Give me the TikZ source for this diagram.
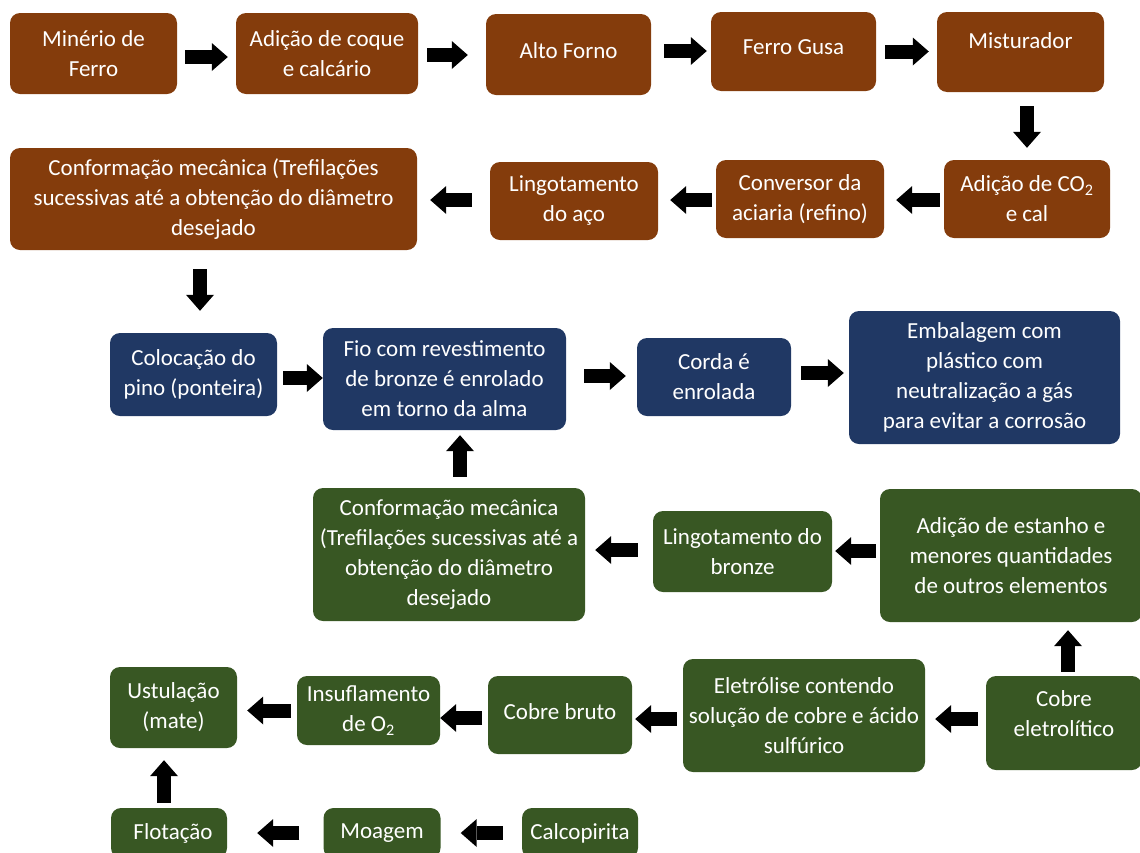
\documentclass[tikz,border=0pt]{standalone}
\usepackage{fontspec}
\setmainfont{Carlito}
\usetikzlibrary{arrows.meta}
\definecolor{brownc}{RGB}{132,60,12}
\definecolor{bluec}{RGB}{32,56,100}
\definecolor{greenc}{RGB}{56,87,35}
\tikzset{
  box/.style={rounded corners=10pt, text=white, align=center, inner sep=2pt,
    font=\fontsize{23}{30}\selectfont},
  brownbox/.style={box, fill=brownc},
  bluebox/.style={box, fill=bluec},
  greenbox/.style={box, fill=greenc},
  sz/.style 2 args={minimum width=#1pt, minimum height=#2pt},
  barrow/.style={draw=black, line width=14pt,
    -{Triangle[length=16pt,width=28pt,line width=0pt]}}
}
\begin{document}
\begin{tikzpicture}[x=1pt,y=-1pt]
\useasboundingbox (0,0) rectangle (1140,852);
% row 1
\node[brownbox, sz={167}{81}] (a1) at (93.5,53.5) {Minério de\\Ferro};
\node[brownbox, sz={182}{81}] (a2) at (327,53.5) {Adição de coque\\e calcário};
\node[brownbox, sz={165}{81}, text depth=8pt] (a3) at (568.5,54.5) {Alto Forno};
\node[brownbox, sz={165}{79}, text depth=8pt] (a4) at (793.5,51.5) {Ferro Gusa};
\node[brownbox, sz={167}{80}, text depth=22pt] (a5) at (1020.5,52) {Misturador};
% row 2
\node[brownbox, sz={407}{102}] (b1) at (213.5,199) {Conformação mecânica (Trefilações\\sucessivas até a obtenção do diâmetro\\desejado};
\node[brownbox, sz={168}{78}] (b2) at (574,201) {Lingotamento\\do aço};
\node[brownbox, sz={168}{78}] (b3) at (800,199) {Conversor da\\aciaria (refino)};
\node[brownbox, sz={166}{78}] (b4) at (1027,199) {Adição de CO\textsubscript{2}\\e cal};
% row 3
\node[bluebox, sz={167}{83}] (c1) at (193.5,374.5) {Colocação do\\pino (ponteira)};
\node[bluebox, sz={243}{102}] (c2) at (444.5,379) {Fio com revestimento\\de bronze é enrolado\\em torno da alma};
\node[bluebox, sz={154}{78}] (c3) at (714,377) {Corda é\\enrolada};
\node[bluebox, sz={271}{133}] (c4) at (984.5,377.5) {Embalagem com\\plástico com\\neutralização a gás\\para evitar a corrosão};
% row 4
\node[greenbox, sz={272}{133}] (d1) at (449,554.5) {Conformação mecânica\\(Trefilações sucessivas até a\\obtenção do diâmetro\\desejado};
\node[greenbox, sz={179}{81}] (d2) at (742.5,551.5) {Lingotamento do\\bronze};
\node[greenbox, sz={262}{133}] (d3) at (1011,555.5) {Adição de estanho e\\menores quantidades\\de outros elementos};
% row 5
\node[greenbox, sz={127}{81}] (e1) at (173.5,707.5) {Ustulação\\(mate)};
\node[greenbox, sz={143}{69}] (e2) at (368.5,710.5) {Insuflamento\\de O\textsubscript{2}};
\node[greenbox, sz={144}{78}, text depth=6pt] (e3) at (560,715) {Cobre bruto};
\node[greenbox, sz={242}{113}] (e4) at (804,715.5) {Eletrólise contendo\\solução de cobre e ácido\\sulfúrico};
\node[greenbox, sz={156}{94}, text depth=18pt] (e5) at (1064,723) {Cobre\\eletrolítico};
% row 6
\node[greenbox, sz={116}{50}] (f1) at (169,833) {\hspace*{8pt}Flotação};
\node[greenbox, sz={117}{50}] (f2) at (382,833) {Moagem};
\node[greenbox, sz={116}{50}] (f3) at (580,833) {Calcopirita};
% arrows row 1
\draw[barrow, shorten <=8pt, shorten >=8pt] ([yshift=-3.5pt]a1.east) -- ([yshift=-3.5pt]a1.east -| a2.west);
\draw[barrow, shorten <=9pt, shorten >=18pt] ([yshift=-1.5pt]a2.east) -- ([yshift=-1.5pt]a2.east -| a3.west);
\draw[barrow, shorten <=13pt, shorten >=4pt] ([yshift=3.5pt]a3.east) -- ([yshift=3.5pt]a3.east -| a4.west);
\draw[barrow, shorten <=9pt, shorten >=8pt] (a4.east) -- (a4.east -| a5.west);
\draw[barrow, shorten <=14pt, shorten >=12pt] ([xshift=6.5pt]a5.south) -- ([xshift=6.5pt]a5.south |- b4.north);
% arrows row 2
\draw[barrow, shorten <=4pt, shorten >=12pt] ([yshift=-1pt]b4.west) -- ([yshift=-1pt]b4.west -| b3.east);
\draw[barrow, shorten <=4pt, shorten >=12pt] ([yshift=-1pt]b3.west) -- ([yshift=-1pt]b3.west -| b2.east);
\draw[barrow, shorten <=18pt, shorten >=13pt] ([yshift=1pt]b2.west) -- ([yshift=1pt]b2.west -| b1.east);
\draw[barrow, shorten <=19pt, shorten >=22pt] ([xshift=-13.5pt]b1.south) -- ([xshift=-13.5pt]b1.south |- c1.north);
% arrows row 3
\draw[barrow, shorten <=6pt, shorten >=0pt] ([yshift=-3.5pt]c1.east) -- ([yshift=-3.5pt]c1.east -| c2.west);
\draw[barrow, shorten <=18pt, shorten >=11pt] ([yshift=3pt]c2.east) -- ([yshift=3pt]c2.east -| c3.west);
\draw[barrow, shorten <=10pt, shorten >=5pt] ([yshift=4pt]c3.east) -- ([yshift=4pt]c3.east -| c4.west);
% arrows row 4
\draw[barrow, shorten <=11pt, shorten >=5pt] ([xshift=11pt]d1.north) -- ([xshift=11pt]d1.north |- c2.south);
\draw[barrow, shorten <=4pt, shorten >=3pt] ([yshift=4.5pt]d3.west) -- ([yshift=4.5pt]d3.west -| d2.east);
\draw[barrow, shorten <=15pt, shorten >=10pt] ([yshift=1.5pt]d2.west) -- ([yshift=1.5pt]d2.west -| d1.east);
% arrows row 5
\draw[barrow, shorten <=4pt, shorten >=8pt] ([xshift=4pt]e5.north) -- ([xshift=4pt]e5.north |- d3.south);
\draw[barrow, shorten <=8pt, shorten >=10pt] ([yshift=4pt]e5.west) -- ([yshift=4pt]e5.west -| e4.east);
\draw[barrow, shorten <=6pt, shorten >=3pt] ([yshift=-3.5pt]e4.west) -- ([yshift=-3.5pt]e4.west -| e3.east);
\draw[barrow, shorten <=6pt, shorten >=0pt] ([yshift=-3pt]e3.west) -- ([yshift=-3pt]e3.west -| e2.east);
\draw[barrow, shorten <=6pt, shorten >=10pt] (e2.west) -- (e2.west -| e1.east);
% arrows row 6
\draw[barrow, shorten <=5pt, shorten >=12pt] ([xshift=-5pt]f1.north) -- ([xshift=-5pt]f1.north |- e1.south);
\draw[barrow, shorten <=19pt, shorten >=20pt] (f3.west) -- (f3.west -| f2.east);
\draw[barrow, shorten <=24pt, shorten >=30pt] (f2.west) -- (f2.west -| f1.east);
\end{tikzpicture}
\end{document}
